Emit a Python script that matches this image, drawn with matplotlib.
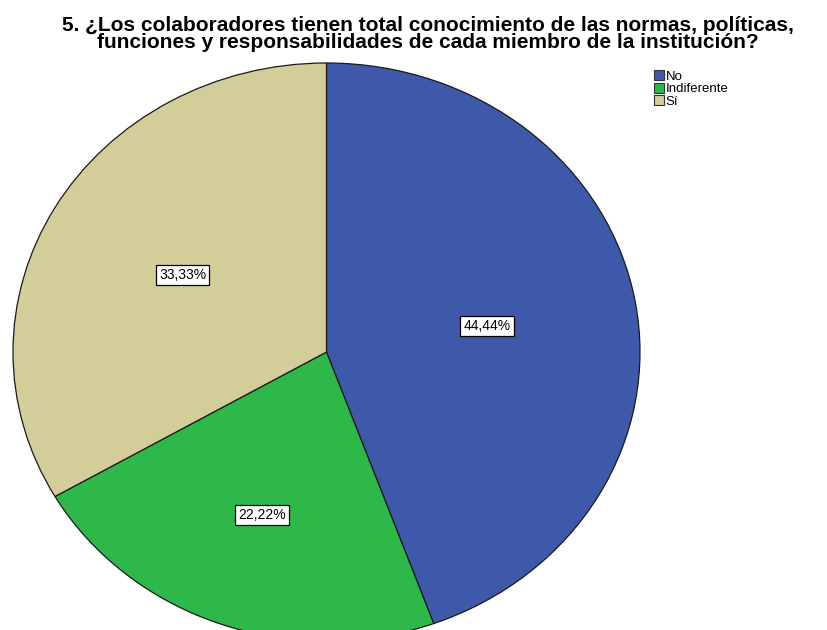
import numpy as np
import matplotlib.pyplot as plt

categories = ['No', 'Indiferente', 'Sí']
counts = [4, 2, 3]
colors = ['#3F59AA', '#2EB84A', '#D3CD9A']
label_dist = [0.52, 0.6, 0.53]

title = ('5. ¿Los colaboradores tienen total conocimiento de las normas, políticas,\n'
         'funciones y responsabilidades de cada miembro de la institución?')

plt.rcParams['font.family'] = ['Liberation Sans', 'DejaVu Sans']

fig = plt.figure(figsize=(8.27, 6.30), dpi=100)
W, H = 827, 630
# pie area in pixels: x 13..640, y 63..641 (runs off the bottom edge)
left, right, top, bottom = 13, 640, 63, 641
ax = fig.add_axes([left / W, (H - bottom) / H, (right - left) / W, (bottom - top) / H])


def pct(p):
    return f'{p:.2f}%'.replace('.', ',')


wedges, texts, autotexts = ax.pie(
    counts, colors=colors, startangle=90, counterclock=False,
    autopct=pct, pctdistance=0.5, radius=1,
    wedgeprops=dict(edgecolor='#1a1a1a', linewidth=0.9),
    textprops=dict(fontsize=10, color='black'))
for w, t, d in zip(wedges, autotexts, label_dist):
    mid = np.deg2rad((w.theta1 + w.theta2) / 2)
    t.set_position((d * np.cos(mid), d * np.sin(mid)))
    t.set_bbox(dict(boxstyle='square,pad=0.22', facecolor='white',
                    edgecolor='black', linewidth=0.9))
    t.set_clip_on(False)
    w.set_clip_on(False)
ax.set_xlim(-1, 1)
ax.set_ylim(-1, 1)
ax.set_aspect('auto')

fig.text(0.5175, 0.975, title, ha='center', va='top', fontsize=15,
         fontweight='bold', linespacing=0.9)

leg = fig.legend(wedges, categories, loc='upper left',
                 bbox_to_anchor=(654 / W, 1 - 70 / H),
                 frameon=False, fontsize=9.5, handlelength=0.75, handleheight=0.8,
                 handletextpad=0.15, labelspacing=0.0, borderpad=0,
                 borderaxespad=0)
for h in leg.legend_handles:
    h.set_edgecolor('#333333')
    h.set_linewidth(0.8)

fig.savefig('out.png', dpi=100)
